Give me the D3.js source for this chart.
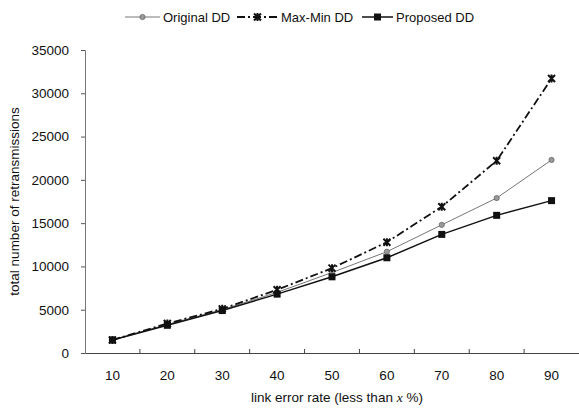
<!DOCTYPE html>
<html>
<head>
<meta charset="utf-8">
<script src="https://cdn.jsdelivr.net/npm/d3@7"></script>
<style>
  body { margin: 0; background: #fff; }
  text { font-family: "Liberation Sans", Arial, sans-serif; fill: #111; }
</style>
</head>
<body>
<svg id="chart" width="579" height="412"></svg>
<script>
let rates = ["10","20","30","40","50","60","70","80","90"];
let original = [1500,3300,5000,7000,9300,11700,14800,17900,22300];
let maxmin = [1500,3400,5100,7300,9800,12800,16900,22200,31700];
let proposed = [1500,3200,4900,6800,8800,11000,13700,15900,17600];
let yticks = [0,5000,10000,15000,20000,25000,30000,35000];

let svg = d3.select("#chart");
let margin = {left:85, right:0, top:50, bottom:59};
let W = 579, H = 412;

let scx = d3.scaleBand(rates,[margin.left,W - margin.right]);
let scy = d3.scaleLinear([0,35000],[H - margin.bottom,margin.top]);
let cx = d => scx(d) + scx.bandwidth()/2;

// y axis
let gy = svg.append("g").attr("transform",`translate(${margin.left},0)`)
    .call(d3.axisLeft(scy).tickValues(yticks).tickSize(4).tickPadding(12).tickFormat(d3.format("d")));
gy.select(".domain").attr("stroke","#777");
gy.selectAll(".tick line").attr("stroke","#555");
gy.selectAll("text").attr("font-size",13.5).style("font-family","Liberation Sans, Arial, sans-serif");

// x axis, ticks between categories pointing up
let gx = svg.append("g").attr("transform",`translate(0,${H - margin.bottom})`)
    .call(d3.axisBottom(scx).tickSize(0).tickPadding(17));
gx.select(".domain").attr("stroke","#444");
gx.selectAll("text").attr("font-size",13.5).style("font-family","Liberation Sans, Arial, sans-serif");
gx.selectAll(".sep")
    .data(rates.slice(1))
    .join("line")
    .attr("class","sep")
    .attr("x1",d => scx(d)).attr("x2",d => scx(d))
    .attr("y1",0).attr("y2",-4)
    .attr("stroke","#444");

// axis titles
svg.append("text")
    .attr("x",(margin.left + W)/2 + 5).attr("y",402)
    .attr("text-anchor","middle").attr("font-size",13.5)
    .html('link error rate (less than <tspan font-family="Liberation Serif" font-style="italic">x</tspan> %)');
svg.append("text")
    .attr("transform",`translate(19,${(margin.top + H - margin.bottom)/2}) rotate(-90)`)
    .attr("text-anchor","middle").attr("font-size",13.5)
    .text("total number of retransmissions");

let series = [
  {name:"Original DD", data:original, stroke:"#777", width:1, dash:null, marker:"circle"},
  {name:"Max-Min DD", data:maxmin, stroke:"#111", width:1.8, dash:"8 3 2 3", marker:"x"},
  {name:"Proposed DD", data:proposed, stroke:"#111", width:1.5, dash:null, marker:"square"}
];

let line = d3.line().x((d,i) => cx(rates[i])).y(d => scy(d));

function drawMarker(g, type, x, y) {
  if (type === "circle") {
    g.append("circle").attr("cx",x).attr("cy",y).attr("r",2.6)
      .attr("fill","#999").attr("stroke","#666").attr("stroke-width",0.8);
  } else if (type === "x") {
    let s = 3.5;
    g.append("path").attr("d",`M${x-s},${y-s}L${x+s},${y+s}M${x-s},${y+s}L${x+s},${y-s}M${x},${y-s-0.5}L${x},${y+s+0.5}`)
      .attr("stroke","#111").attr("stroke-width",2).attr("fill","none");
  } else {
    g.append("rect").attr("x",x-3.5).attr("y",y-3.5).attr("width",7).attr("height",7).attr("fill","#111");
  }
}

series.forEach(s => {
  let g = svg.append("g");
  g.append("path").datum(s.data)
    .attr("d",line).attr("fill","none")
    .attr("stroke",s.stroke).attr("stroke-width",s.width)
    .attr("stroke-dasharray",s.dash);
  s.data.forEach((v,i) => drawMarker(g, s.marker, cx(rates[i]), scy(v)));
});

// legend
let legX = [125,237,362];
let legLen = [35,41,31];
series.forEach((s,i) => {
  let g = svg.append("g");
  let y = 17;
  g.append("line").attr("x1",legX[i]).attr("x2",legX[i] + legLen[i]).attr("y1",y).attr("y2",y)
    .attr("stroke",s.stroke).attr("stroke-width",s.width).attr("stroke-dasharray",s.dash);
  drawMarker(g, s.marker, legX[i] + legLen[i]/2, y);
  g.append("text").attr("x",legX[i] + legLen[i] + 3).attr("y",y + 4.5)
    .attr("font-size",13).text(s.name);
});
</script>
</body>
</html>
